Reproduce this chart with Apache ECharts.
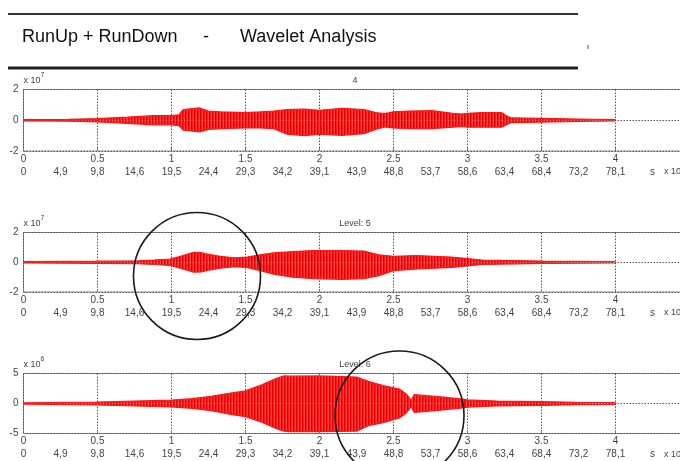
<!DOCTYPE html>
<html>
<head>
<meta charset="utf-8">
<script src="https://cdn.jsdelivr.net/npm/echarts@6/dist/echarts.min.js"></script>
<style>html,body{margin:0;padding:0;background:#fff}#c{width:680px;height:461px}</style>
</head>
<body>
<div id="c"></div>
<script>
// ---- data ----
const topTickLabels = ['0','0.5','1','1.5','2','2.5','3','3.5','4'];
const secondTickLabels = ['0','4,9','9,8','14,6','19,5','24,4','29,3','34,2','39,1','43,9','48,8','53,7','58,6','63,4','68,4','73,2','78,1','s'];
const panelTitles = ['4','Level: 5','Level: 6'];
const panelExponents = ['7','7','6'];
const yLimits = [2, 2, 5];

// panel 1 (x 10^7) envelope: time positions, upper amplitude, lower amplitude
const p1X  = [0, 0.3, 0.5, 0.7, 0.88, 1.0, 1.05, 1.08, 1.19, 1.25, 1.33, 1.5, 1.6, 1.69, 1.78, 1.9, 2.0, 2.15, 2.3, 2.38, 2.44, 2.5, 2.6, 2.76, 2.9, 2.96, 3.0, 3.1, 3.23, 3.27, 3.3, 3.5, 3.75, 4.0];
const p1Up = [0.04, 0.06, 0.1, 0.2, 0.3, 0.3, 0.35, 0.7, 0.8, 0.6, 0.55, 0.5, 0.55, 0.6, 0.7, 0.72, 0.65, 0.78, 0.7, 0.5, 0.43, 0.55, 0.6, 0.62, 0.45, 0.4, 0.45, 0.5, 0.5, 0.25, 0.15, 0.12, 0.08, 0.04];
const p1Lo = [0.04, 0.06, 0.1, 0.2, 0.3, 0.3, 0.35, 0.65, 0.76, 0.6, 0.55, 0.5, 0.5, 0.55, 0.9, 1.0, 0.9, 0.98, 0.87, 0.6, 0.43, 0.5, 0.55, 0.55, 0.45, 0.4, 0.45, 0.45, 0.45, 0.25, 0.15, 0.12, 0.08, 0.04];

// panel 2 (x 10^7)
const p2X  = [0, 0.5, 0.77, 0.88, 0.99, 1.06, 1.15, 1.2, 1.24, 1.33, 1.42, 1.51, 1.6, 1.69, 1.82, 1.96, 2.15, 2.3, 2.4, 2.5, 2.66, 2.89, 3.0, 3.1, 3.23, 3.5, 4.0];
const p2Up = [0.05, 0.07, 0.1, 0.15, 0.22, 0.4, 0.67, 0.65, 0.55, 0.4, 0.3, 0.35, 0.5, 0.63, 0.72, 0.79, 0.78, 0.75, 0.5, 0.4, 0.45, 0.35, 0.25, 0.15, 0.12, 0.08, 0.05];
const p2Lo = [0.05, 0.07, 0.1, 0.15, 0.22, 0.4, 0.67, 0.65, 0.55, 0.4, 0.3, 0.35, 0.56, 0.8, 1.0, 1.1, 1.15, 1.1, 0.9, 0.56, 0.45, 0.35, 0.25, 0.15, 0.12, 0.08, 0.05];

// panel 3 (x 10^6)
const p3X  = [0, 0.5, 1.0, 1.14, 1.27, 1.4, 1.5, 1.61, 1.71, 1.76, 1.8, 2.0, 2.25, 2.33, 2.43, 2.54, 2.59, 2.62, 2.64, 2.72, 2.82, 2.95, 3.0, 3.2, 3.5, 3.73, 4.0];
const p3Up = [0.1, 0.25, 0.55, 0.8, 1.2, 1.75, 2.1, 3.1, 4.2, 4.6, 4.55, 4.6, 4.4, 3.7, 3.0, 2.4, 1.5, 0.5, 1.5, 1.3, 1.1, 0.77, 0.6, 0.4, 0.3, 0.2, 0.15];
const p3Lo = [0.1, 0.25, 0.55, 0.8, 1.2, 1.8, 2.2, 3.1, 4.2, 4.6, 4.7, 4.7, 4.6, 3.7, 3.2, 2.4, 1.5, 0.5, 1.5, 1.3, 1.1, 0.77, 0.6, 0.4, 0.3, 0.2, 0.15];

const panels = [[p1X, p1Up, p1Lo], [p2X, p2Up, p2Lo], [p3X, p3Up, p3Lo]];

// ---- layout / style ----
const gridTops = [89.5, 232.5, 373.5];
const gridHeights = [61.5, 59.5, 60];
const RED = '#ff1515';
const LABEL = '#444';
const FONT = 'Liberation Sans, Arial, sans-serif';

// striped fill texture (vertical traces look)
const tex = document.createElement('canvas');
tex.width = 3; tex.height = 2;
const tctx = tex.getContext('2d');
['#ff1818', '#ff4040', '#e20000'].forEach((c, k) => { tctx.fillStyle = c; tctx.fillRect(k, 0, 1, 2); });
const FILL = {image: tex, repeat: 'repeat'};

const chart = echarts.init(document.getElementById('c'), null, {renderer: 'canvas'});

const grids = [], xAxes = [], yAxes = [], series = [], graphics = [];
panels.forEach((p, i) => {
  grids.push({left: 23.5, width: 666, top: gridTops[i], height: gridHeights[i], outerBoundsMode: 'none',
    show: true, borderColor: '#8a8a8a', borderWidth: 1, backgroundColor: '#fff'});
  xAxes.push({
    gridIndex: i, type: 'value', min: 0, max: 4.5, interval: 0.5, position: 'bottom',
    axisLine: {show: false, onZero: false},
    axisTick: {show: true, inside: true, length: 3, lineStyle: {color: '#777'}},
    splitLine: {show: true, lineStyle: {type: [1.5, 1.5], color: '#555', width: 1}},
    axisLabel: {margin: 3, fontSize: 10, color: LABEL, fontFamily: FONT,
      formatter: v => { const k = Math.round(v / 0.5); return k < topTickLabels.length ? topTickLabels[k] : ''; }}
  });
  xAxes.push({
    gridIndex: i, type: 'value', min: 0, max: 4.5, interval: 0.25, position: 'bottom',
    axisLine: {show: false, onZero: false}, axisTick: {show: false}, splitLine: {show: false},
    axisLabel: {margin: 16, fontSize: 10, color: LABEL, fontFamily: FONT, showMaxLabel: false,
      formatter: v => { const k = Math.round(v / 0.25); return k < secondTickLabels.length ? secondTickLabels[k] : ''; }}
  });
  yAxes.push({
    gridIndex: i, type: 'value', min: -yLimits[i], max: yLimits[i], interval: yLimits[i],
    axisLine: {show: false}, axisTick: {show: true, inside: true, length: 3, lineStyle: {color: '#777'}},
    splitLine: {show: true, lineStyle: {type: [1.5, 1.5], color: '#555', width: 1}},
    axisLabel: {margin: 5, fontSize: 10, color: LABEL, fontFamily: FONT,
      formatter: v => v === 0 ? '0' : (v > 0 ? String(v) : '-' + String(-v))},
    name: '{b|x 10}{s|' + panelExponents[i] + '}', nameLocation: 'end', nameGap: 1,
    nameTextStyle: {align: 'left', color: LABEL, fontFamily: FONT,
      rich: {b: {fontSize: 9, color: LABEL, fontFamily: FONT, verticalAlign: 'bottom', lineHeight: 13},
             s: {fontSize: 7, color: LABEL, fontFamily: FONT, verticalAlign: 'top', lineHeight: 13}}}
  });
  const [xs, up, lo] = p;
  const common = {type: 'line', xAxisIndex: 2 * i, yAxisIndex: i, showSymbol: false, symbol: 'none', silent: true,
    lineStyle: {color: RED, width: 1.2}, areaStyle: {color: FILL, opacity: 1}, z: 3};
  series.push(Object.assign({name: 'up' + i, data: xs.map((x, k) => [x, up[k]])}, common));
  series.push(Object.assign({name: 'lo' + i, data: xs.map((x, k) => [x, -lo[k]])}, common));
  graphics.push({type: 'text', z: 100, x: 355, y: gridTops[i] - 9,
    style: {text: panelTitles[i], fontSize: 9, fill: LABEL, fontFamily: FONT, align: 'center', verticalAlign: 'middle'}});
  graphics.push({type: 'text', z: 100, x: 664, y: gridTops[i] + gridHeights[i] + 21,
    style: {text: 'x 10', fontSize: 9, fill: LABEL, fontFamily: FONT, verticalAlign: 'middle'}});
});

const headStyle = {fontSize: 18, fill: '#111', fontFamily: FONT, verticalAlign: 'middle'};
graphics.push(
  {type: 'text', z: 100, x: 22, y: 37, style: Object.assign({text: 'RunUp + RunDown'}, headStyle)},
  {type: 'text', z: 100, x: 203, y: 37, style: Object.assign({text: '-'}, headStyle)},
  {type: 'text', z: 100, x: 240, y: 37, style: Object.assign({text: 'Wavelet Analysis'}, headStyle)},
  {type: 'line', z: 100, shape: {x1: 8, y1: 14, x2: 578, y2: 14}, style: {stroke: '#333', lineWidth: 2}},
  {type: 'line', z: 100, shape: {x1: 8, y1: 68, x2: 578, y2: 68}, style: {stroke: '#222', lineWidth: 3}},
  {type: 'line', z: 100, shape: {x1: 588, y1: 45, x2: 588, y2: 49}, style: {stroke: '#555', lineWidth: 1}},
  {type: 'circle', z: 100, shape: {cx: 197, cy: 276, r: 63.5}, style: {fill: 'none', stroke: '#1a1a1a', lineWidth: 1.6}},
  {type: 'circle', z: 100, shape: {cx: 399.5, cy: 415.5, r: 64.5}, style: {fill: 'none', stroke: '#1a1a1a', lineWidth: 1.6}}
);

chart.setOption({
  animation: false,
  backgroundColor: '#fff',
  grid: grids,
  xAxis: xAxes,
  yAxis: yAxes,
  series: series,
  graphic: graphics
});
</script>
</body>
</html>
